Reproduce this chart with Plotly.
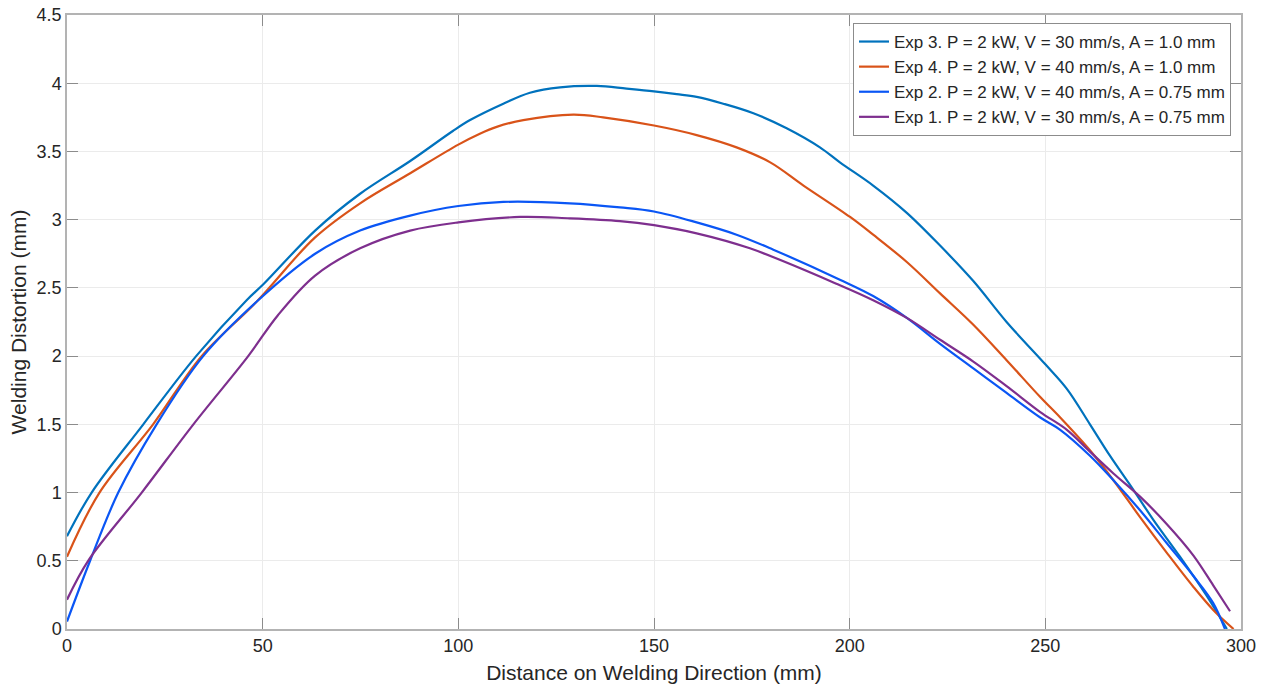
import plotly.graph_objects as go

# Exp 3: P = 2 kW, V = 30 mm/s, A = 1.0 mm
exp3_x = [0, 6.3, 19.5, 33, 45.9, 50.3, 63.4, 74.9, 87.7, 98.6, 103, 111.5, 118.3, 126, 135.4,
          143, 150, 155.8, 160.9, 167.7, 175.4, 183.9, 192.4, 197.5, 206, 214.6, 223.1, 231.6,
          240.1, 250, 255.5, 261.4, 266.5, 272.5, 277.6, 284.4, 291.3, 296.4]
exp3_y = [0.68, 1.0, 1.5, 2.0, 2.41, 2.53, 2.92, 3.19, 3.43, 3.65, 3.73, 3.85, 3.93, 3.97, 3.98,
          3.96, 3.94, 3.92, 3.90, 3.85, 3.78, 3.67, 3.53, 3.42, 3.25, 3.05, 2.81, 2.55,
          2.25, 1.94, 1.76, 1.50, 1.27, 1.02, 0.80, 0.53, 0.24, 0.0]

# Exp 4: P = 2 kW, V = 40 mm/s, A = 1.0 mm
exp4_x = [0, 8.3, 22, 34.4, 48.5, 63.4, 74.9, 87.7, 100, 105.5, 109.8, 116.6, 129.4, 137,
          150, 160.9, 171.1, 179.7, 188.2, 200.1, 206, 214.6, 223.1, 231.6, 240.1, 248.7,
          253.8, 261.4, 267.4, 274.2, 281, 287.8, 292.9, 298.1]
exp4_y = [0.53, 1.0, 1.5, 2.0, 2.40, 2.87, 3.12, 3.34, 3.55, 3.63, 3.68, 3.73, 3.77, 3.75,
          3.69, 3.62, 3.53, 3.42, 3.25, 3.02, 2.89, 2.69, 2.46, 2.23, 1.97, 1.70,
          1.55, 1.31, 1.09, 0.82, 0.56, 0.31, 0.14, 0.0]

# Exp 2: P = 2 kW, V = 40 mm/s, A = 0.75 mm
exp2_x = [0, 5.9, 13.1, 22.9, 34.8, 48.5, 63.4, 74.9, 87.7, 100, 111.5, 128.5, 141.3,
          150, 160.9, 171.1, 180.5, 197.5, 206, 214.6, 223.1, 231.6, 240.1, 248.7, 253.8,
          261.4, 267.4, 274.2, 281, 287.8, 292.9, 295.9]
exp2_y = [0.055, 0.5, 1.0, 1.5, 2.0, 2.40, 2.75, 2.92, 3.03, 3.10, 3.13, 3.12, 3.09,
          3.06, 2.98, 2.89, 2.78, 2.56, 2.44, 2.28, 2.09, 1.91, 1.73, 1.55, 1.46,
          1.27, 1.09, 0.87, 0.63, 0.39, 0.19, 0.0]

# Exp 1: P = 2 kW, V = 30 mm/s, A = 0.75 mm
exp1_x = [0, 5.4, 19.1, 32.3, 46.3, 53.9, 63.4, 74.9, 87.7, 100, 115.8, 128.5, 141.3,
          150, 160.9, 174.5, 197.5, 206, 214.6, 223.1, 231.6, 240.1, 248.7, 255.5, 261.4,
          267.4, 274.2, 281, 287.8, 292.9, 297.2]
exp1_y = [0.215, 0.5, 1.0, 1.5, 2.0, 2.30, 2.59, 2.79, 2.92, 2.98, 3.02, 3.01, 2.99,
          2.96, 2.90, 2.79, 2.52, 2.41, 2.28, 2.12, 1.96, 1.78, 1.59, 1.46, 1.30,
          1.14, 0.97, 0.77, 0.54, 0.32, 0.13]

series = [
    ("Exp 3. P = 2 kW, V = 30 mm/s, A = 1.0 mm", exp3_x, exp3_y, "#0072BD"),
    ("Exp 4. P = 2 kW, V = 40 mm/s, A = 1.0 mm", exp4_x, exp4_y, "#D95319"),
    ("Exp 2. P = 2 kW, V = 40 mm/s, A = 0.75 mm", exp2_x, exp2_y, "#0A56F5"),
    ("Exp 1. P = 2 kW, V = 30 mm/s, A = 0.75 mm", exp1_x, exp1_y, "#7E2F8E"),
]

x_ticks = [0, 50, 100, 150, 200, 250, 300]
y_ticks = [0, 0.5, 1, 1.5, 2, 2.5, 3, 3.5, 4, 4.5]

FONT = "Liberation Sans, Arial, sans-serif"

fig = go.Figure()
for name, xs, ys, color in series:
    fig.add_trace(go.Scatter(
        x=xs, y=ys, name=name, mode="lines",
        line=dict(color=color, width=2.2, shape="spline", smoothing=1.0),
    ))

axis_common = dict(
    showgrid=True, gridcolor="#ebebeb", gridwidth=1,
    showline=True, linecolor="#b3b3b3", linewidth=1.5, mirror="ticks",
    ticks="inside", ticklen=11, tickcolor="#8c8c8c", tickwidth=1,
    zeroline=False, automargin=False,
    tickfont=dict(family=FONT, size=18, color="#262626"),
    title_font=dict(family=FONT, size=21, color="#262626"),
)

fig.update_xaxes(
    range=[0, 300], tickvals=x_ticks, ticktext=[str(v) for v in x_ticks],
    title_text="Distance on Welding Direction (mm)", title_standoff=10, **axis_common,
)
fig.update_yaxes(
    range=[0, 4.5], tickvals=y_ticks, ticktext=[f"{v:g}" for v in y_ticks],
    title_text="Welding Distortion (mm)", title_standoff=4, **axis_common,
)

fig.update_layout(
    width=1269, height=691,
    margin=dict(l=67, r=28, t=15, b=62),
    plot_bgcolor="white", paper_bgcolor="white",
    font=dict(family=FONT, color="#262626"),
    legend=dict(
        x=0.9915, y=0.987, xanchor="right", yanchor="top",
        bgcolor="white", bordercolor="#8c8c8c", borderwidth=1,
        font=dict(family=FONT, size=17, color="#262626"),
        tracegroupgap=0, itemwidth=30,
    ),
    showlegend=True,
)

fig.write_html("out.html")
